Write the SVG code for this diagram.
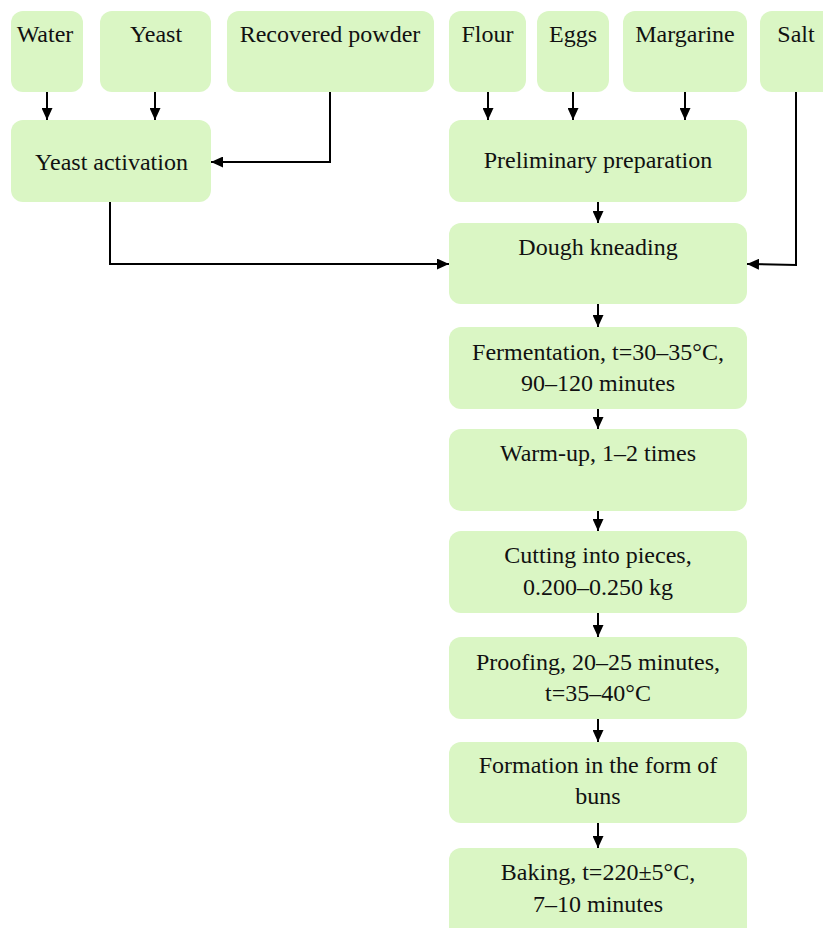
<svg xmlns="http://www.w3.org/2000/svg" width="823" height="928" viewBox="0 0 823 928">
<style>
.box{fill:#daf6c4;}
.t{font-family:"Liberation Serif","Times New Roman",serif;font-size:24px;fill:#111;text-anchor:middle;}
.c{fill:none;stroke:#000;stroke-width:2;}
</style>
<defs>
<marker id="ah" markerUnits="userSpaceOnUse" markerWidth="12" markerHeight="11" refX="12" refY="5.5" orient="auto">
<path d="M0,0 L12,5.5 L0,11 Z" fill="#000"/>
</marker>
</defs>
<rect width="823" height="928" fill="#fff"/>
<g id="water"><rect class="box" x="11" y="11" width="72" height="81" rx="12"/><text class="t" x="45" y="42">Water</text></g>
<g id="yeast"><rect class="box" x="100" y="11" width="111" height="81" rx="12"/><text class="t" x="156" y="42">Yeast</text></g>
<g id="powder"><rect class="box" x="227" y="11" width="207" height="81" rx="12"/><text class="t" x="330" y="42">Recovered powder</text></g>
<g id="flour"><rect class="box" x="449" y="11" width="77" height="81" rx="12"/><text class="t" x="487.5" y="42">Flour</text></g>
<g id="eggs"><rect class="box" x="537" y="11" width="72" height="81" rx="12"/><text class="t" x="573" y="42">Eggs</text></g>
<g id="margarine"><rect class="box" x="623" y="11" width="124" height="81" rx="12"/><text class="t" x="685" y="42">Margarine</text></g>
<g id="salt"><rect class="box" x="760" y="11" width="75" height="81" rx="12"/><text class="t" x="796" y="42">Salt</text></g>
<g id="activation"><rect class="box" x="11" y="120" width="200" height="82" rx="12"/><text class="t" x="111.5" y="170">Yeast activation</text></g>
<g id="prelim"><rect class="box" x="449" y="120" width="298" height="82" rx="12"/><text class="t" x="598" y="168">Preliminary preparation</text></g>
<g id="kneading"><rect class="box" x="449" y="223" width="298" height="81" rx="12"/><text class="t" x="598" y="255">Dough kneading</text></g>
<g id="fermentation"><rect class="box" x="449" y="327" width="298" height="82" rx="12"/><text class="t" x="598" y="360">Fermentation, t=30–35°C,</text><text class="t" x="598" y="391">90–120 minutes</text></g>
<g id="warmup"><rect class="box" x="449" y="429" width="298" height="82" rx="12"/><text class="t" x="598" y="461">Warm-up, 1–2 times</text></g>
<g id="cutting"><rect class="box" x="449" y="531" width="298" height="82" rx="12"/><text class="t" x="598" y="563">Cutting into pieces,</text><text class="t" x="598" y="595">0.200–0.250 kg</text></g>
<g id="proofing"><rect class="box" x="449" y="637" width="298" height="82" rx="12"/><text class="t" x="598" y="670">Proofing, 20–25 minutes,</text><text class="t" x="598" y="701">t=35–40°C</text></g>
<g id="formation"><rect class="box" x="449" y="742" width="298" height="81" rx="12"/><text class="t" x="598" y="773">Formation in the form of</text><text class="t" x="598" y="804">buns</text></g>
<g id="baking"><rect class="box" x="449" y="848" width="298" height="95" rx="12"/><text class="t" x="598" y="880">Baking, t=220±5°C,</text><text class="t" x="598" y="912">7–10 minutes</text></g>
<g id="connectors">
<path class="c" d="M47,92 V120" marker-end="url(#ah)"/>
<path class="c" d="M155,92 V120" marker-end="url(#ah)"/>
<path class="c" d="M330,92 V162 H211" marker-end="url(#ah)"/>
<path class="c" d="M488,92 V120" marker-end="url(#ah)"/>
<path class="c" d="M573,92 V120" marker-end="url(#ah)"/>
<path class="c" d="M685,92 V120" marker-end="url(#ah)"/>
<path class="c" d="M796,92 V265 L747,264" marker-end="url(#ah)"/>
<path class="c" d="M110,202 V264 H449" marker-end="url(#ah)"/>
<path class="c" d="M598,202 V223" marker-end="url(#ah)"/>
<path class="c" d="M598,304 V327" marker-end="url(#ah)"/>
<path class="c" d="M598,409 V429" marker-end="url(#ah)"/>
<path class="c" d="M598,511 V531" marker-end="url(#ah)"/>
<path class="c" d="M598,613 V637" marker-end="url(#ah)"/>
<path class="c" d="M598,719 V742" marker-end="url(#ah)"/>
<path class="c" d="M598,823 V848" marker-end="url(#ah)"/>
</g>
</svg>
